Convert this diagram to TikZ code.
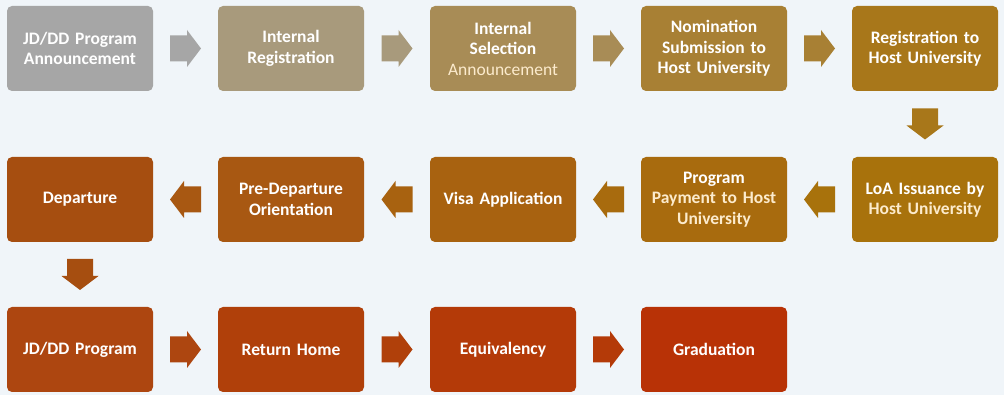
\documentclass[tikz,border=0pt]{standalone}
\usepackage{fontspec}
\setmainfont{Carlito}
\usetikzlibrary{calc}
\definecolor{bg}{HTML}{F0F5F9}
\definecolor{c1}{HTML}{A6A6A6}
\definecolor{c2}{HTML}{A89A7C}
\definecolor{c3}{HTML}{A88C56}
\definecolor{c4}{HTML}{A88034}
\definecolor{c5}{HTML}{A8771A}
\definecolor{c6}{HTML}{A8720C}
\definecolor{c7}{HTML}{A86B0E}
\definecolor{c8}{HTML}{A86210}
\definecolor{c9}{HTML}{A85812}
\definecolor{c10}{HTML}{A64E10}
\definecolor{c11}{HTML}{AD4610}
\definecolor{c12}{HTML}{B0400A}
\definecolor{c13}{HTML}{B43A08}
\definecolor{c14}{HTML}{B83206}
\definecolor{cream}{HTML}{FCEBCD}
\tikzset{
  box/.style={rounded corners=5pt, minimum width=146pt, minimum height=85pt,
    inner sep=0pt, text width=142pt, align=center, text=white,
    font=\fontsize{17.5}{20.5}\selectfont\bfseries},
  blk/.pic={\fill[pic actions] (-15.5,-13) -- (1.5,-13) -- (1.5,-18.5) -- (15.5,0)
      -- (1.5,18.5) -- (1.5,13) -- (-15.5,13) -- cycle;}
}
\newcommand{\lite}[1]{{\mdseries\color{cream}#1}}
\begin{document}
\begin{tikzpicture}[x=1pt,y=1pt]
\fill[bg] (0,0) rectangle (1004,395);
\useasboundingbox (0,0) rectangle (1004,395);
% row 1
\node[box, fill=c1] (n1) at (80,346.5) {JD/DD Program\\Announcement};
\node[box, fill=c2] (n2) at (291,346.5) {Internal\\Registration};
\node[box, fill=c3] (n3) at (503,346.5) {Internal\\Selection\\\lite{Announcement}};
\node[box, fill=c4] (n4) at (714,346.5) {Nomination\\Submission to\\Host University};
\node[box, fill=c5] (n5) at (925,346.5) {Registration to\\Host University};
% row 2
\node[box, fill=c6] (n6) at (925,195.5) {LoA Issuance by\\{\color{cream}Host University}};
\node[box, fill=c7] (n7) at (714,195.5) {Program\\{\color{cream}Payment to Host\\University}};
\node[box, fill=c8] (n8) at (503,195.5) {Visa Application};
\node[box, fill=c9] (n9) at (291,195.5) {Pre-Departure\\Orientation};
\node[box, fill=c10] (n10) at (80,195.5) {Departure};
% row 3
\node[box, fill=c11] (n11) at (80,45.5) {JD/DD Program};
\node[box, fill=c12] (n12) at (291,45.5) {Return Home};
\node[box, fill=c13] (n13) at (503,45.5) {Equivalency};
\node[box, fill=c14] (n14) at (714,45.5) {Graduation};
% arrows
\pic[fill=c1] at ($(n1.east)!0.5!(n2.west)$) {blk};
\pic[fill=c2] at ($(n2.east)!0.5!(n3.west)$) {blk};
\pic[fill=c3] at ($(n3.east)!0.5!(n4.west)$) {blk};
\pic[fill=c4] at ($(n4.east)!0.5!(n5.west)$) {blk};
\pic[fill=c5, rotate=-90] at ($(n5.south)!0.5!(n6.north)$) {blk};
\pic[fill=c6, rotate=180] at ($(n6.west)!0.5!(n7.east)$) {blk};
\pic[fill=c7, rotate=180] at ($(n7.west)!0.5!(n8.east)$) {blk};
\pic[fill=c8, rotate=180] at ($(n8.west)!0.5!(n9.east)$) {blk};
\pic[fill=c9, rotate=180] at ($(n9.west)!0.5!(n10.east)$) {blk};
\pic[fill=c10, rotate=-90] at ($(n10.south)!0.5!(n11.north)$) {blk};
\pic[fill=c11] at ($(n11.east)!0.5!(n12.west)$) {blk};
\pic[fill=c12] at ($(n12.east)!0.5!(n13.west)$) {blk};
\pic[fill=c13] at ($(n13.east)!0.5!(n14.west)$) {blk};
\end{tikzpicture}
\end{document}
